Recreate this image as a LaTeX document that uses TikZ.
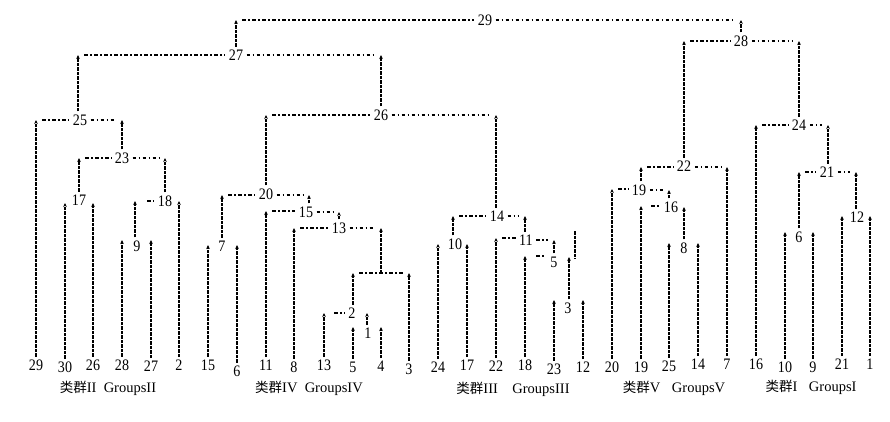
\documentclass[tikz,border=0pt]{standalone}
\usepackage{fontspec}
\setmainfont{Liberation Serif}
\newfontfamily\numfont{Liberation Serif}[FakeStretch=0.88]
\newfontfamily\cjkfont{Noto Sans CJK SC}
\usetikzlibrary{arrows.meta}
\tikzset{
  num/.style={font=\numfont\fontsize{16}{16}\selectfont, inner sep=1pt},
  leaf/.style={num},
  merge/.style={num, inner sep=1.5pt},
  stem/.style={line width=1.1pt, dash pattern=on 3.5pt off 1pt,
    -{Stealth[length=4pt,width=3.6pt]}, shorten <=1.5pt},
  vline/.style={line width=1.1pt, dash pattern=on 3.5pt off 1pt},
  hline/.style={line width=1.1pt, dash pattern=on 3.5pt off 2.5pt on 1.5pt off 2.5pt},
  grp/.style={font=\fontsize{14.5}{14.5}\selectfont, inner sep=0pt},
  cjk/.style={},
}
\newcommand{\qunlei}{{\cjkfont\fontsize{13.5}{13.5}\selectfont 类群}}
\begin{document}
\begin{tikzpicture}[x=1pt,y=-1pt]
\useasboundingbox[fill=white] (0,0) rectangle (890,421);

% ---------- leaves ----------
\node[leaf] (L29) at (36,365) {29};
\node[leaf] (L30) at (65,367) {30};
\node[leaf] (L26) at (93,365) {26};
\node[leaf] (L28) at (122,365) {28};
\node[leaf] (L27) at (151,366) {27};
\node[leaf] (L2) at (179,365) {2};
\node[leaf] (L15) at (208,365) {15};
\node[leaf] (L6) at (237,371) {6};
\node[leaf] (L11) at (266,365) {11};
\node[leaf] (L8) at (294,367) {8};
\node[leaf] (L13) at (324,365) {13};
\node[leaf] (L5) at (353,367) {5};
\node[leaf] (L4) at (381,366) {4};
\node[leaf] (L3) at (409,369) {3};
\node[leaf] (L24) at (438,367) {24};
\node[leaf] (L17) at (467,365) {17};
\node[leaf] (L22) at (496,366) {22};
\node[leaf] (L18) at (525,365) {18};
\node[leaf] (L23) at (554,369) {23};
\node[leaf] (L12) at (583,367) {12};
\node[leaf] (L20) at (612,367) {20};
\node[leaf] (L19) at (641,367) {19};
\node[leaf] (L25) at (669,366) {25};
\node[leaf] (L14) at (698,364) {14};
\node[leaf] (L7) at (727,364) {7};
\node[leaf] (L16) at (756,364) {16};
\node[leaf] (L10) at (785,367) {10};
\node[leaf] (L9) at (813,367) {9};
\node[leaf] (L21) at (842,364) {21};
\node[leaf] (L1) at (870,364) {1};

% ---------- merge labels ----------
\node[merge] (M1) at (368,333) {1};
\node[merge] (M2) at (352,313) {2};
\coordinate (M4) at (381,273);
\node[merge] (M13) at (339,228) {13};
\node[merge] (M15) at (306,212) {15};
\node[merge] (M7) at (222,246) {7};
\node[merge] (M20) at (266,194) {20};
\node[merge] (M10) at (455,244) {10};
\node[merge] (M3) at (568,308) {3};
\node[merge] (M5) at (554,262) {5};
\node[merge] (M11) at (526,240) {11};
\node[merge] (M14) at (497,216) {14};
\node[merge] (M26) at (381,115) {26};
\node[merge] (M9) at (137,246) {9};
\node[merge] (M17) at (79,200) {17};
\node[merge] (M18) at (165,201) {18};
\node[merge] (M23) at (122,158) {23};
\node[merge] (M25) at (80,120) {25};
\node[merge] (M27) at (236,55) {27};
\node[merge] (M29) at (485,20) {29};
\node[merge] (M8) at (684,248) {8};
\node[merge] (M16) at (671,207) {16};
\node[merge] (M19) at (639,190) {19};
\node[merge] (M22) at (684,166) {22};
\node[merge] (M6) at (799,237) {6};
\node[merge] (M12) at (857,217) {12};
\node[merge] (M21) at (827,172) {21};
\node[merge] (M24) at (799,125) {24};
\node[merge] (M28) at (741,41) {28};

% ---------- line end points ----------
\coordinate (M1L) at (353,327);  \coordinate (M1R) at (381,327);
\coordinate (M2L) at (324,313);  \coordinate (M2R) at (367,313);
\coordinate (M4L) at (353,273);  \coordinate (M4R) at (409,273);
\coordinate (M13L) at (294,228); \coordinate (M13R) at (381,228);
\coordinate (M15L) at (266,211); \coordinate (M15R) at (339,212);
\coordinate (M7L) at (208,245);  \coordinate (M7R) at (237,245);
\coordinate (M20L) at (222,195); \coordinate (M20R) at (309,195);
\coordinate (M10L) at (438,244); \coordinate (M10R) at (467,244);
\coordinate (M3L) at (554,300);  \coordinate (M3R) at (583,300);
\coordinate (M5L) at (525,256);  \coordinate (M5R) at (569,257);
\coordinate (M11L) at (496,238); \coordinate (M11R) at (554,240);
\coordinate (M14L) at (453,216); \coordinate (M14R) at (525,216);
\coordinate (M26L) at (266,115); \coordinate (M26R) at (496,115);
\coordinate (M9L) at (122,240);  \coordinate (M9R) at (151,240);
\coordinate (M17L) at (65,203);  \coordinate (M17R) at (93,203);
\coordinate (M18L) at (135,201); \coordinate (M18R) at (179,201);
\coordinate (M23L) at (79,158);  \coordinate (M23R) at (165,158);
\coordinate (M25L) at (36,120);  \coordinate (M25R) at (122,120);
\coordinate (M27L) at (78,55);   \coordinate (M27R) at (381,55);
\coordinate (M29L) at (236,20);  \coordinate (M29R) at (741,20);
\coordinate (M8L) at (669,243);  \coordinate (M8R) at (698,243);
\coordinate (M16L) at (641,206); \coordinate (M16R) at (684,207);
\coordinate (M19L) at (612,189); \coordinate (M19R) at (669,190);
\coordinate (M22L) at (641,167); \coordinate (M22R) at (727,167);
\coordinate (M6L) at (785,232);  \coordinate (M6R) at (813,232);
\coordinate (M12L) at (842,216); \coordinate (M12R) at (870,216);
\coordinate (M21L) at (799,172); \coordinate (M21R) at (856,172);
\coordinate (M24L) at (756,125); \coordinate (M24R) at (828,125);
\coordinate (M28L) at (684,41);  \coordinate (M28R) at (799,41);

% ---------- horizontal dash-dot lines ----------
\foreach \m in {M25,M23,M27,M26,M29,M20,M15,M13,M14,M11,M22,M28,M19,M24,M21}{
  \draw[hline, shorten <=6pt, shorten >=2pt] (\m L) -- (\m L -| \m.west);
  \draw[hline, shorten <=2pt, shorten >=6pt] (\m R -| \m.east) -- (\m R);
}
\draw[hline, shorten <=12pt, shorten >=2pt] (M18L) -- (M18L -| M18.west);
\draw[hline, shorten <=10pt, shorten >=2pt] (M2L) -- (M2L -| M2.west);
\draw[hline, shorten <=11pt, shorten >=3pt] (M5L) -- (M5L -| M5.west);
\draw[hline, shorten <=10pt, shorten >=2pt] (M16L) -- (M16L -| M16.west);
\draw[hline, shorten <=6pt, shorten >=6pt] (M4L) -- (M4R);

% ---------- leaf stems ----------
\draw[stem] (L29.north) -- (L29.north |- M25L);
\draw[stem] (L30.north) -- (L30.north |- M17L);
\draw[stem] (L26.north) -- (L26.north |- M17R);
\draw[stem] (L28.north) -- (L28.north |- M9L);
\draw[stem] (L27.north) -- (L27.north |- M9R);
\draw[stem] (L2.north) -- (L2.north |- M18R);
\draw[stem] (L15.north) -- (L15.north |- M7L);
\draw[stem] (L6.north) -- (L6.north |- M7R);
\draw[stem] (L11.north) -- (L11.north |- M15L);
\draw[stem] (L8.north) -- (L8.north |- M13L);
\draw[stem] (L13.north) -- (L13.north |- M2L);
\draw[stem] (L5.north) -- (L5.north |- M1L);
\draw[stem] (L4.north) -- (L4.north |- M1R);
\draw[stem] (L3.north) -- (L3.north |- M4R);
\draw[stem] (L24.north) -- (L24.north |- M10L);
\draw[stem] (L17.north) -- (L17.north |- M10R);
\draw[stem] (L22.north) -- (L22.north |- M11L);
\draw[stem] (L18.north) -- (L18.north |- M5L);
\draw[stem] (L23.north) -- (L23.north |- M3L);
\draw[stem] (L12.north) -- (L12.north |- M3R);
\draw[stem] (L20.north) -- (L20.north |- M19L);
\draw[stem] (L19.north) -- (L19.north |- M16L);
\draw[stem] (L25.north) -- (L25.north |- M8L);
\draw[stem] (L14.north) -- (L14.north |- M8R);
\draw[stem] (L7.north) -- (L7.north |- M22R);
\draw[stem] (L16.north) -- (L16.north |- M24L);
\draw[stem] (L10.north) -- (L10.north |- M6L);
\draw[stem] (L9.north) -- (L9.north |- M6R);
\draw[stem] (L21.north) -- (L21.north |- M12L);
\draw[stem] (L1.north) -- (L1.north |- M12R);

% ---------- internal stems ----------
\draw[stem] ([xshift=-1pt]M1.north) -- (M2R);
\draw[stem] ([xshift=1pt]M2.north) -- (M4L);
\draw[stem, shorten <=0pt] (M4) -- (M13R);
\draw[stem] ([xshift=0pt]M13.north) -- (M15R);
\draw[stem] ([xshift=3pt]M15.north) -- (M20R);
\draw[stem] (M7.north) -- (M20L);
\draw[stem] (M20.north) -- (M26L);
\draw[stem] ([xshift=-2pt]M10.north) -- (M14L);
\draw[stem] ([xshift=1pt]M3.north) -- (M5R);
\draw[stem] (M5.north) -- (M11R);
\draw[stem] ([xshift=-1pt]M11.north) -- (M14R);
\draw[stem] ([xshift=-1pt]M14.north) -- (M26R);
\draw[stem] (M26.north) -- (M27R);
\draw[stem] ([xshift=-2pt]M9.north) -- (M18L);
\draw[stem] (M17.north) -- (M23L);
\draw[stem] (M18.north) -- (M23R);
\draw[stem] (M23.north) -- (M25R);
\draw[stem] ([xshift=-2pt]M25.north) -- (M27L);
\draw[stem] (M27.north) -- (M29L);
\draw[stem] (M8.north) -- (M16R);
\draw[stem] ([xshift=-2pt]M16.north) -- (M19R);
\draw[stem] ([xshift=2pt]M19.north) -- (M22L);
\draw[stem] (M22.north) -- (M28L);
\draw[stem] (M6.north) -- (M21L);
\draw[stem] ([xshift=-1pt]M12.north) -- (M21R);
\draw[stem] ([xshift=1pt]M21.north) -- (M24R);
\draw[stem] (M24.north) -- (M28R);
\draw[stem] (M28.north) -- (M29R);

% stray dashed stroke
\draw[vline] (575,231) -- (575,259);

% ---------- group captions ----------
\node[grp] (G2) at (108,388) {\qunlei II\hspace{0.5em}GroupsII};
\node[grp] (G4) at (309,388) {\qunlei IV\hspace{0.5em}GroupsIV};
\node[grp] (G3) at (513,389) {\qunlei III\hspace{1em}GroupsIII};
\node[grp] (G5) at (674,388) {\qunlei V\hspace{0.8em}GroupsV};
\node[grp] (G1) at (811,387) {\qunlei I\hspace{0.8em}GroupsI};
\end{tikzpicture}
\end{document}
